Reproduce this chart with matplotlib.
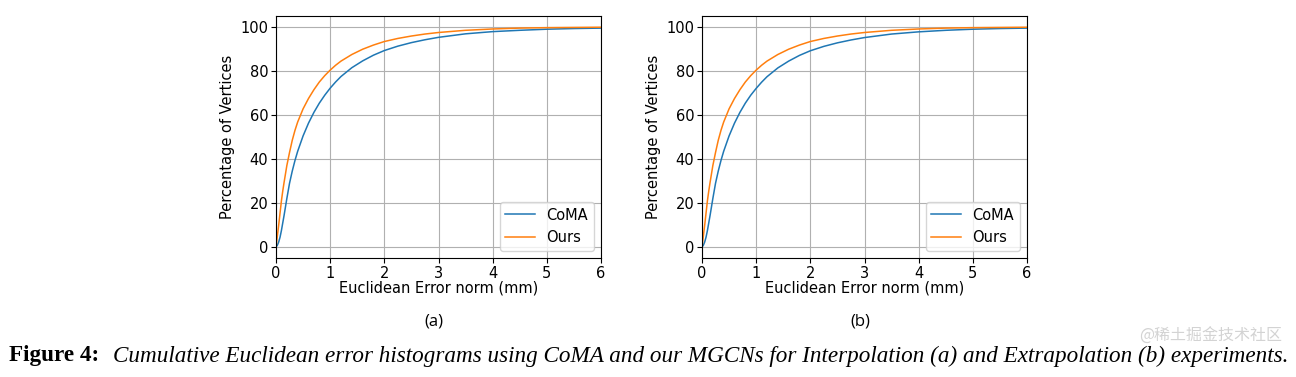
import matplotlib.pyplot as plt

# error thresholds (mm)
err = [0, 0.025, 0.05, 0.075, 0.1, 0.125, 0.15, 0.2, 0.25, 0.3, 0.35, 0.4,
       0.5, 0.6, 0.7, 0.8, 0.9, 1.0, 1.1, 1.2, 1.4, 1.6, 1.8, 2.0, 2.25, 2.5,
       2.75, 3.0, 3.5, 4.0, 4.5, 5.0, 5.5, 6.0]

# (a) interpolation
coma_a = [0, 0.8, 2.3, 4.5, 7.5, 11, 14.5, 22, 29, 34.5, 39.3, 43.5, 50.5,
          56.3, 61.2, 65.4, 69, 72.2, 75, 77.5, 81.5, 84.6, 87.2, 89.3, 91.3,
          92.9, 94.2, 95.3, 96.9, 97.9, 98.5, 99.0, 99.3, 99.5]
ours_a = [0, 5, 10, 15.5, 21, 25.5, 29.5, 37, 43, 48.5, 53, 56.8, 62.8, 67.5,
          71.5, 75, 77.9, 80.4, 82.6, 84.5, 87.5, 89.9, 91.8, 93.4, 94.8, 95.9,
          96.8, 97.5, 98.5, 99.1, 99.5, 99.7, 99.8, 99.9]

# (b) extrapolation
coma_b = [0, 0.8, 2.3, 4.5, 7.5, 11, 14.5, 22, 29, 34.5, 39.3, 43.5, 50.5,
          56.3, 61.2, 65.4, 69, 72.1, 74.9, 77.4, 81.4, 84.5, 87.1, 89.2, 91.2,
          92.8, 94.1, 95.2, 96.8, 97.8, 98.5, 99.0, 99.3, 99.5]
ours_b = [0, 5, 10, 15.5, 21, 25.5, 29.5, 37, 43, 48.5, 53, 56.8, 62.8, 67.5,
          71.5, 75, 77.9, 80.4, 82.6, 84.5, 87.5, 89.9, 91.8, 93.4, 94.8, 95.9,
          96.8, 97.5, 98.5, 99.1, 99.5, 99.7, 99.8, 99.9]

panels = [(coma_a, ours_a, "(a)", 276), (coma_b, ours_b, "(b)", 702)]

W, H = 1296, 377
fig = plt.figure(figsize=(W / 100, H / 100), dpi=100)

for coma, ours, tag, left in panels:
    ax = fig.add_axes([left / W, (H - 258) / H, 325 / W, 242 / H])
    ax.plot(err, coma, color="#1f77b4", lw=1.1, label="CoMA")
    ax.plot(err, ours, color="#ff7f0e", lw=1.1, label="Ours")
    ax.set_xlim(0, 6)
    ax.set_ylim(-5, 105)
    ax.set_xticks(range(0, 7))
    ax.set_yticks([0, 20, 40, 60, 80, 100])
    ax.grid(True, color="#b0b0b0", lw=0.8)
    ax.tick_params(labelsize=10.5, length=3.5, pad=2)
    ax.set_xlabel("Euclidean Error norm (mm)", fontsize=10.5, labelpad=0)
    ax.set_ylabel("Percentage of Vertices", fontsize=10.5, labelpad=4)
    ax.legend(loc="lower right", fontsize=10.5, handlelength=2.0)
    fig.text((left + 158) / W, 1 - 321 / H, tag, ha="center", va="center",
             fontsize=12, family="Open Sans")

fig.text(9 / W, 1 - 356 / H, "Figure 4:", ha="left", va="center",
         fontsize=16.7, family="Liberation Serif", weight="bold")
fig.text(113 / W, 1 - 356 / H,
         "Cumulative Euclidean error histograms using CoMA and our MGCNs for "
         "Interpolation (a) and Extrapolation (b) experiments.",
         ha="left", va="center", fontsize=16.7, family="Liberation Serif",
         style="italic")
# watermark, nudged just above the caption line
fig.text(1282 / W, 1 - 336 / H, "@稀土掘金技术社区", ha="right", va="center",
         fontsize=11.5, family=["Noto Sans CJK SC", "DejaVu Sans"],
         color="#c8c8c8", alpha=0.8)

fig.savefig("out.png", dpi=100)
